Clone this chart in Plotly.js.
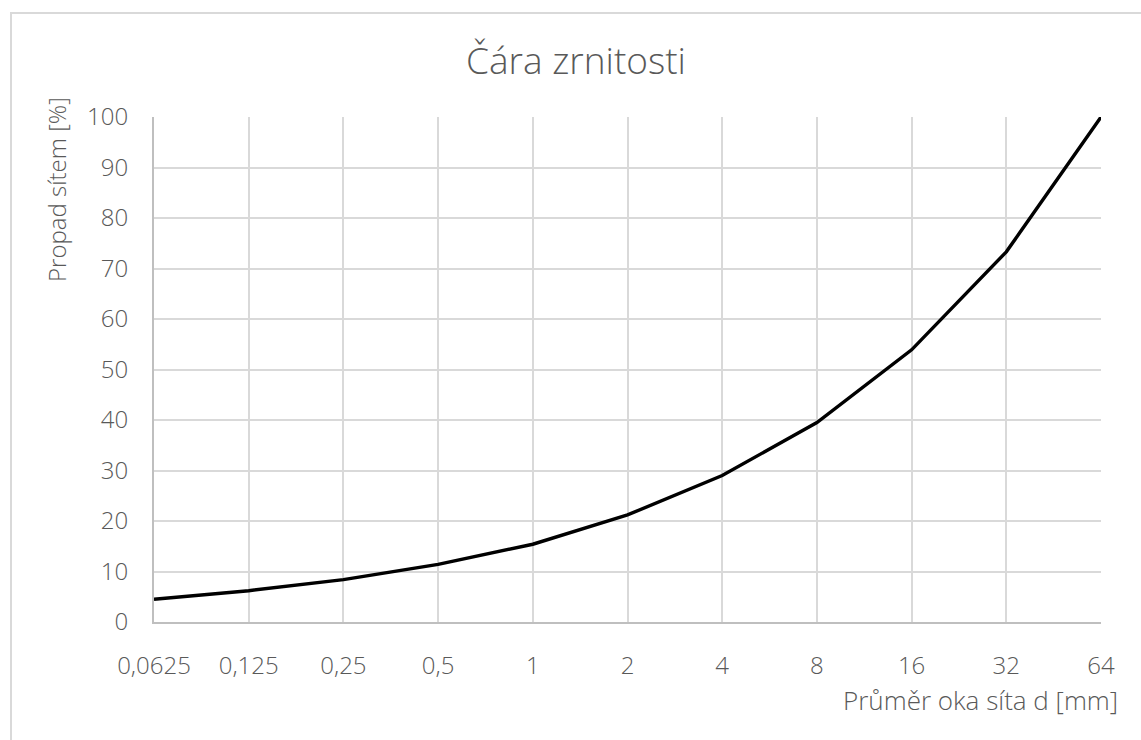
<!DOCTYPE html>
<html>
<head>
<meta charset="utf-8">
<script src="https://cdn.plot.ly/plotly-3.0.1.min.js"></script>
<style>html,body{margin:0;padding:0;background:#fff;}#chart{width:1141px;height:740px;}</style>
</head>
<body>
<div id="chart"></div>
<script>
const sieveLabels = ["0,0625", "0,125", "0,25", "0,5", "1", "2", "4", "8", "16", "32", "64"];
const passing = [4.5, 6.2, 8.4, 11.4, 15.4, 21.2, 29.0, 39.5, 53.9, 73.3, 100];
const chartTitle = "Čára zrnitosti";
const xTitle = "Průměr oka síta d [mm]";
const yTitle = "Propad sítem [%]";

const W = 1141, H = 740;
const L = 154, R = 1101, T = 117, B = 622;
const pw = R - L, ph = B - T;
const px = v => (v - L) / pw;
const py = v => (B - v) / ph;

const FAM = "'Open Sans', sans-serif";
const TXT = "#595959";

const trace = {
  x: sieveLabels,
  y: passing,
  type: "scatter",
  mode: "lines",
  line: {color: "#000000", width: 3.4},
  hoverinfo: "x+y"
};

const layout = {
  width: W, height: H,
  margin: {l: L, r: W - R, t: T, b: H - B, pad: 0},
  paper_bgcolor: "#ffffff",
  plot_bgcolor: "#ffffff",
  showlegend: false,
  font: {family: FAM, color: TXT, size: 24, weight: 300},
  title: {
    text: chartTitle,
    font: {family: FAM, size: 37, color: TXT, weight: 300},
    xref: "container", x: 576 / W, xanchor: "center",
    yref: "container", y: 1 - 61 / H, yanchor: "middle"
  },
  xaxis: {
    type: "category",
    range: [0, sieveLabels.length - 1],
    showgrid: true, gridcolor: "#d9d9d9", gridwidth: 2,
    showline: true, linecolor: "#bfbfbf", linewidth: 2,
    ticks: "", ticklabelstandoff: 21,
    tickfont: {family: FAM, size: 24, color: TXT, weight: 300},
    zeroline: false, fixedrange: true
  },
  yaxis: {
    range: [0, 100], dtick: 10, tick0: 0,
    showgrid: true, gridcolor: "#d9d9d9", gridwidth: 2,
    showline: true, linecolor: "#bfbfbf", linewidth: 2,
    ticks: "", ticklabelstandoff: 19,
    tickfont: {family: FAM, size: 24, color: TXT, weight: 300},
    zeroline: false, fixedrange: true
  },
  annotations: [
    {
      text: xTitle, showarrow: false,
      xref: "paper", yref: "paper",
      x: px(1120), xanchor: "right",
      y: py(700), yanchor: "middle",
      font: {family: FAM, size: 26, color: TXT, weight: 300}
    },
    {
      text: yTitle, showarrow: false, textangle: -90,
      xref: "paper", yref: "paper",
      x: px(56), xanchor: "center",
      y: py(190), yanchor: "middle",
      font: {family: FAM, size: 24, color: TXT, weight: 300}
    }
  ],
  shapes: [
    {
      type: "rect", xref: "paper", yref: "paper", layer: "below",
      x0: px(11), x1: px(1150), y0: py(13), y1: py(760),
      line: {color: "#d9d9d9", width: 2}, fillcolor: "rgba(0,0,0,0)"
    }
  ]
};

Plotly.newPlot("chart", [trace], layout, {displayModeBar: false, staticPlot: true});
</script>
</body>
</html>
